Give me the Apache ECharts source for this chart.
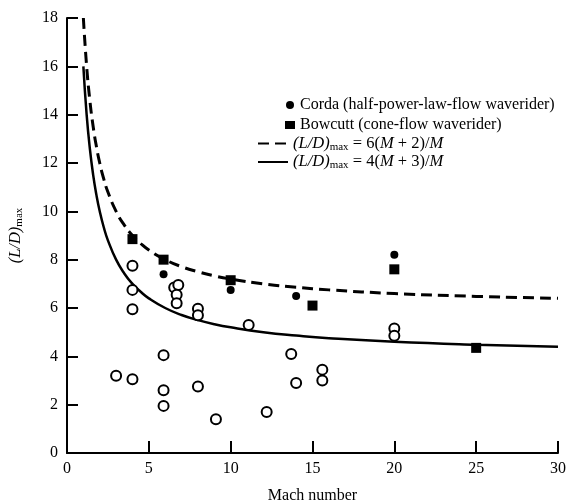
<!DOCTYPE html>
<html>
<head>
<meta charset="utf-8">
<script src="https://cdn.jsdelivr.net/npm/echarts@6/dist/echarts.min.js"></script>
<style>
html, body { margin: 0; padding: 0; background: #fff; }
#chart { width: 568px; height: 503px; }
</style>
</head>
<body>
<div id="chart"></div>
<script>
// open circles (other waveriders)
var openPts = [
	[4, 7.75], [4, 6.75], [4, 5.95], [3, 3.2], [4, 3.05],
	[5.9, 4.05], [5.9, 2.6], [5.9, 1.95],
	[6.55, 6.85], [6.8, 6.95], [6.7, 6.55], [6.7, 6.2],
	[8, 5.97], [8, 5.7], [8, 2.75], [9.1, 1.4],
	[11.1, 5.3], [12.2, 1.7], [13.7, 4.1], [14, 2.9],
	[15.6, 3.45], [15.6, 3.0], [20, 5.15], [20, 4.85]
];
// Corda (filled circles)
var cordaPts = [[5.9, 7.4], [10, 6.75], [14, 6.5], [20, 8.2]];
// Bowcutt (filled squares)
var bowcuttPts = [[4, 8.85], [5.9, 8.0], [10, 7.15], [15, 6.1], [20, 7.6], [25, 4.35]];
// curves
var dashedPts = [
	[1, 18], [1.2, 16], [1.4, 14.57], [1.6, 13.5], [1.8, 12.67], [2, 12], [2.25, 11.33],
	[2.5, 10.8], [3, 10], [3.5, 9.43], [4, 9], [4.5, 8.67], [5, 8.4], [6, 8], [7, 7.71],
	[8, 7.5], [9, 7.33], [10, 7.2], [12, 7], [14, 6.86], [16, 6.75], [20, 6.6], [25, 6.48], [30, 6.4]
];
var solidPts = [
	[1, 16], [1.2, 14], [1.4, 12.57], [1.6, 11.5], [1.8, 10.67], [2, 10], [2.25, 9.33],
	[2.5, 8.8], [3, 8], [3.5, 7.43], [4, 7], [4.5, 6.67], [5, 6.4], [6, 6], [7, 5.71],
	[8, 5.5], [9, 5.33], [10, 5.2], [12, 5], [14, 4.86], [16, 4.75], [20, 4.6], [25, 4.48], [30, 4.4]
];
var names = ['Corda (half-power-law-flow waverider)', 'Bowcutt (cone-flow waverider)', 'dashed', 'solid'];

var serif = '"Liberation Serif", "DejaVu Serif", serif';
var richLD = {
	i: { fontFamily: serif, fontStyle: 'italic', fontSize: 16.5, color: '#000' },
	n: { fontFamily: serif, fontSize: 16.5, color: '#000' },
	s: { fontFamily: serif, fontSize: 11, color: '#000', verticalAlign: 'bottom', padding: [7, 0, 0, 0] }
};

var chart = echarts.init(document.getElementById('chart'));
var option = {
	animation: false,
	backgroundColor: '#fff',
	grid: { left: 67, right: 10, top: 18, bottom: 50, outerBoundsMode: 'none', containLabel: false },
	legend: [{
		data: [names[0], names[1]],
		orient: 'vertical',
		left: 280,
		top: 92,
		itemWidth: 10,
		itemHeight: 8,
		itemGap: 4,
		textStyle: { fontFamily: serif, fontSize: 16, color: '#000' }
	}, {
		data: [names[2], names[3]],
		orient: 'vertical',
		left: 252,
		top: 130,
		itemWidth: 30,
		itemHeight: 8,
		itemGap: 1,
		itemStyle: { opacity: 0 },
		textStyle: { rich: richLD },
		formatter: function(name) {
			if (name == 'dashed') {
				return '{i|(L/D)}{s|max}{n| = 6(}{i|M}{n| + 2)/}{i|M}';
			}
			return '{i|(L/D)}{s|max}{n| = 4(}{i|M}{n| + 3)/}{i|M}';
		}
	}],
	xAxis: {
		type: 'value',
		min: 0,
		max: 30,
		interval: 5,
		name: 'Mach number',
		nameLocation: 'middle',
		nameGap: 35,
		nameTextStyle: { fontFamily: serif, fontSize: 16, color: '#000' },
		axisLine: { lineStyle: { color: '#000', width: 2 } },
		axisTick: { inside: true, length: 12, lineStyle: { color: '#000', width: 2 } },
		axisLabel: { fontFamily: serif, fontSize: 16, color: '#000', margin: 8 },
		splitLine: { show: false }
	},
	yAxis: {
		type: 'value',
		min: 0,
		max: 18,
		interval: 2,
		name: '{i|(L/D)}{s|max}',
		nameLocation: 'middle',
		nameGap: 42,
		nameTextStyle: { rich: richLD },
		axisLine: { show: true, lineStyle: { color: '#000', width: 2 } },
		axisTick: { show: true, inside: true, length: 11, lineStyle: { color: '#000', width: 2 } },
		axisLabel: { fontFamily: serif, fontSize: 16, color: '#000', margin: 9 },
		splitLine: { show: false }
	},
	series: [{
		name: 'open',
		type: 'scatter',
		data: openPts,
		symbol: 'circle',
		symbolSize: 10,
		itemStyle: { color: '#fff', borderColor: '#000', borderWidth: 2, opacity: 1 }
	}, {
		name: names[0],
		type: 'scatter',
		data: cordaPts,
		symbol: 'circle',
		symbolSize: 8,
		itemStyle: { color: '#000', opacity: 1 }
	}, {
		name: names[1],
		type: 'scatter',
		data: bowcuttPts,
		symbol: 'rect',
		symbolSize: 10,
		itemStyle: { color: '#000', opacity: 1 }
	}, {
		name: names[2],
		type: 'line',
		data: dashedPts,
		smooth: true,
		showSymbol: false,
		symbol: 'none',
		lineStyle: { color: '#000', width: 3, type: [11, 6] },
		itemStyle: { color: '#000' },
		z: 1
	}, {
		name: names[3],
		type: 'line',
		data: solidPts,
		smooth: true,
		showSymbol: false,
		symbol: 'none',
		lineStyle: { color: '#000', width: 2.5 },
		itemStyle: { color: '#000' },
		z: 1
	}]
};
chart.setOption(option);
</script>
</body>
</html>
